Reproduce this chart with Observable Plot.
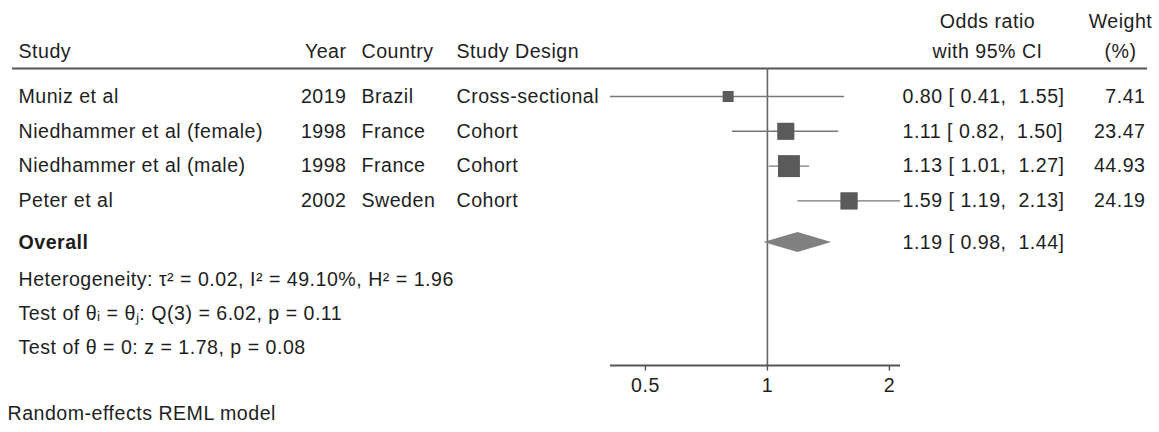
<!DOCTYPE html>
<html>
<head>
<meta charset="utf-8">
<script src="https://cdn.jsdelivr.net/npm/d3@7"></script>
<script src="https://cdn.jsdelivr.net/npm/@observablehq/plot@0.6"></script>
<style>
  html, body { margin: 0; padding: 0; background: #fff; }
</style>
</head>
<body>
<div id="chart"></div>
<script>
// ---- data ----
const studies   = ["Muniz et al", "Niedhammer et al (female)", "Niedhammer et al (male)", "Peter et al"];
const years     = [2019, 1998, 1998, 2002];
const countries = ["Brazil", "France", "France", "Sweden"];
const designs   = ["Cross-sectional", "Cohort", "Cohort", "Cohort"];
const oddsRatio = [0.80, 1.11, 1.13, 1.59];
const ciLow     = [0.41, 0.82, 1.01, 1.19];
const ciHigh    = [1.55, 1.50, 1.27, 2.13];
const weights   = [7.41, 23.47, 44.93, 24.19];
const overallOR   = 1.19;
const overallLow  = 0.98;
const overallHigh = 1.44;
const xTicks = [0.5, 1, 2];
const statLines = [
  "Heterogeneity: \u03C4\u00B2 = 0.02, I\u00B2 = 49.10%, H\u00B2 = 1.96",
  "Test of \u03B8\u1D62 = \u03B8\u2C7C: Q(3) = 6.02, p = 0.11",
  "Test of \u03B8 = 0: z = 1.78, p = 0.08"
];
const footnote = "Random-effects REML model";

// ---- layout (row units) ----
const ROW_HEAD1 = -2.155, ROW_HEAD2 = -1.293, ROW_RULE = -0.805;
const ROW_OVERALL = 4.195, STAT_ROWS = [5.26, 6.236, 7.21];
const ROW_AXIS = 7.73, ROW_FOOT = 9.11;
const NB = "\u00A0";

const fmt = v => v.toFixed(2);
const ciText = (e, l, h) => `${fmt(e)} [${NB}${fmt(l)},${NB}${NB}${fmt(h)}]`;

const rows = studies.map((s, i) => ({
  study: s, year: years[i], country: countries[i], design: designs[i],
  or: oddsRatio[i], lo: ciLow[i], hi: ciHigh[i], w: weights[i], row: i,
  ci: ciText(oddsRatio[i], ciLow[i], ciHigh[i]), wt: fmt(weights[i])
}));
const diamond = [
  {x: overallLow,  y1: ROW_OVERALL,        y2: ROW_OVERALL},
  {x: overallOR,   y1: ROW_OVERALL - 0.29, y2: ROW_OVERALL + 0.29},
  {x: overallHigh, y1: ROW_OVERALL,        y2: ROW_OVERALL}
];
const xMin = d3.min(ciLow), xMax = d3.max(ciHigh);
const FS = 19.6;
const txt = "#1e1e1e";

const L = 12; // frame left
const col = (px) => px - L;

const chart = Plot.plot({
  width: 1159, height: 432,
  marginTop: 0, marginBottom: 0, marginLeft: L, marginRight: 12,
  style: {fontFamily: "'Liberation Sans', Arial, Helvetica, sans-serif", fontSize: FS + "px", background: "#fff", color: txt, letterSpacing: "0.5px"},
  x: {type: "log", domain: [xMin, xMax], range: [610, 900], axis: null},
  y: {domain: [-2.759, 9.655], range: [0, 432], axis: null},
  r: {type: "pow", exponent: 0.385, domain: [0, d3.max(weights)], range: [0, 12.4]},
  marks: [
    // header rule
    Plot.ruleY([ROW_RULE], {stroke: "#555", strokeWidth: 2}),
    // line of no effect
    Plot.ruleX([1], {y1: ROW_RULE, y2: ROW_AXIS, stroke: "#666", strokeWidth: 1.6}),
    // axis
    Plot.ruleY([ROW_AXIS], {x1: xMin, x2: xMax, stroke: "#555", strokeWidth: 2}),
    Plot.ruleX(xTicks, {x: d => d, y1: ROW_AXIS, y2: ROW_AXIS + 0.16, stroke: "#555", strokeWidth: 1.4}),
    Plot.text(xTicks, {x: d => d, y: ROW_AXIS + 0.58, text: d => String(d), fontSize: FS, fill: txt}),
    // CIs and squares
    Plot.ruleY(rows, {y: "row", x1: "lo", x2: "hi", stroke: "#777", strokeWidth: 1.4}),
    Plot.dot(rows, {x: "or", y: "row", r: "w", symbol: "square", fill: "#5a5a5a", stroke: null}),
    // overall diamond
    Plot.areaY(diamond, {x: "x", y1: "y1", y2: "y2", fill: "#808080"}),
    // header texts
    Plot.text(["Study"], {frameAnchor: "left", y: ROW_HEAD2, dx: col(18), textAnchor: "start", fill: txt}),
    Plot.text(["Year"], {frameAnchor: "left", y: ROW_HEAD2, dx: col(346), textAnchor: "end", fill: txt}),
    Plot.text(["Country"], {frameAnchor: "left", y: ROW_HEAD2, dx: col(361), textAnchor: "start", fill: txt}),
    Plot.text(["Study Design"], {frameAnchor: "left", y: ROW_HEAD2, dx: col(456), textAnchor: "start", fill: txt}),
    Plot.text(["Odds ratio"], {frameAnchor: "left", y: ROW_HEAD1, dx: col(987), textAnchor: "middle", fill: txt}),
    Plot.text(["with 95% CI"], {frameAnchor: "left", y: ROW_HEAD2, dx: col(987), textAnchor: "middle", fill: txt}),
    Plot.text(["Weight"], {frameAnchor: "left", y: ROW_HEAD1, dx: col(1120), textAnchor: "middle", fill: txt}),
    Plot.text(["(%)"], {frameAnchor: "left", y: ROW_HEAD2, dx: col(1120), textAnchor: "middle", fill: txt}),
    // study rows
    Plot.text(rows, {frameAnchor: "left", y: "row", text: "study", dx: col(18), textAnchor: "start", fill: txt}),
    Plot.text(rows, {frameAnchor: "left", y: "row", text: d => String(d.year), dx: col(346), textAnchor: "end", fill: txt}),
    Plot.text(rows, {frameAnchor: "left", y: "row", text: "country", dx: col(361), textAnchor: "start", fill: txt}),
    Plot.text(rows, {frameAnchor: "left", y: "row", text: "design", dx: col(456), textAnchor: "start", fill: txt}),
    Plot.text(rows, {frameAnchor: "left", y: "row", text: "ci", dx: col(902), textAnchor: "start", fill: txt}),
    Plot.text(rows, {frameAnchor: "left", y: "row", text: "wt", dx: col(1145), textAnchor: "end", fill: txt}),
    // overall
    Plot.text(["Overall"], {frameAnchor: "left", y: ROW_OVERALL, dx: col(18), textAnchor: "start", fontWeight: "bold", fill: txt}),
    Plot.text([ciText(overallOR, overallLow, overallHigh)], {frameAnchor: "left", y: ROW_OVERALL, dx: col(902), textAnchor: "start", fill: txt}),
    // stats
    Plot.text(statLines, {frameAnchor: "left", y: (d, i) => STAT_ROWS[i], dx: col(18), textAnchor: "start", fill: txt}),
    // footnote
    Plot.text([footnote], {frameAnchor: "left", y: ROW_FOOT, dx: col(7), textAnchor: "start", fill: txt})
  ]
});
document.getElementById("chart").appendChild(chart);
</script>
</body>
</html>
